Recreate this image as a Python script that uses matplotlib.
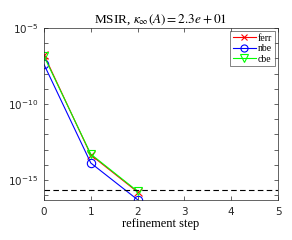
import matplotlib
matplotlib.use("Agg")
import matplotlib.pyplot as plt
import numpy as np

plt.rcParams['mathtext.fontset'] = 'stix'

steps = [0, 1, 2]
ferr = [1.7e-7, 4.4e-14, 1.6e-16]
nbe = [4.0e-8, 1.3e-14, 5.0e-17]
cbe = [1.4e-7, 5.0e-14, 1.8e-16]
eps = 2.22e-16
title = r'MSIR, $\kappa_\infty(A) = 2.3e+01$'

fig = plt.figure(figsize=(2.92, 2.4), dpi=100)
ax = fig.add_axes([44/292, 40/240, 234/292, 172/240])

ax.semilogy(steps, ferr, '-x', color='red', lw=0.8, ms=5.5, mew=0.8,
            label='ferr')
ax.semilogy(steps, nbe, '-o', color='blue', lw=0.8, ms=6, mew=0.8,
            mfc='none', label='nbe')
ax.semilogy(steps, cbe, '-v', color=(0, 1, 0), lw=0.8, ms=6, mew=0.8,
            mfc='none', label='cbe')
ax.axhline(eps, color='black', ls='--', lw=0.8, dashes=(5, 3))

ax.set_xlim(0, 5)
ax.set_ylim(10**-16.32, 1e-5)
ax.set_xticks(range(6))
ax.set_yticks([10.0**k for k in range(-16, -4)])
ax.set_yticklabels([r'$\mathregular{10^{%d}}$' % k if k % 5 == 0 else ''
                    for k in range(-16, -4)])
ax.yaxis.set_minor_locator(matplotlib.ticker.NullLocator())
ax.tick_params(direction='in', top=True, right=True, length=3, width=0.5,
               labelsize=7.5, colors='#262626', pad=4)
ax.tick_params(axis='x', pad=5)
for s in ax.spines.values():
    s.set_linewidth(0.5)
    s.set_color('#262626')

ax.set_title(title, fontsize=9.5, family='Liberation Serif', pad=4)
ax.set_xlabel('refinement step', fontsize=9, family='Liberation Serif',
              labelpad=1)
leg = ax.legend(loc='upper right', handlelength=2.4, markerscale=0.85,
                prop={'family': 'Liberation Serif', 'size': 7},
                fancybox=False, edgecolor='#262626', borderpad=0.25,
                labelspacing=0.15, handletextpad=0.2, borderaxespad=0.35)
leg.get_frame().set_linewidth(0.5)

fig.savefig('out.png', dpi=100)
